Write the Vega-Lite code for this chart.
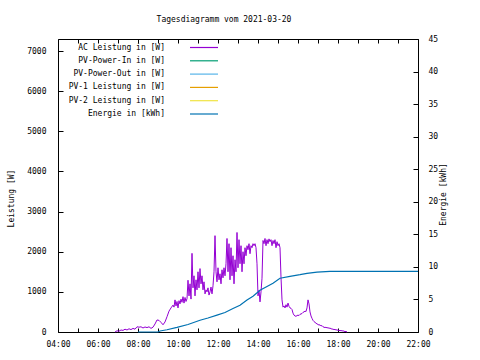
{
  "$schema": "https://vega.github.io/schema/vega-lite/v6.json",
  "width": 360,
  "height": 293,
  "autosize": "none",
  "padding": {"left": 58, "top": 39, "right": 62, "bottom": 28},
  "background": "white",
  "config": {
    "font": "DejaVu Sans Mono",
    "view": {"stroke": "black", "strokeWidth": 1},
    "axis": {"labelFont": "DejaVu Sans Mono", "labelFontSize": 8, "labelColor": "black", "titleFont": "DejaVu Sans Mono", "titleFontSize": 8, "titleFontWeight": "normal", "titleColor": "black", "tickColor": "black", "grid": false, "domain": false},
    "legend": {"orient": "none", "legendX": 140.5, "legendY": 3, "symbolType": "M-3,0H3", "symbolSize": 87, "symbolStrokeWidth": 1.2, "labelAlign": "right", "labelOffset": -44.5, "labelFont": "DejaVu Sans Mono", "labelFontSize": 8, "labelColor": "black", "labelLimit": 0, "padding": 0, "rowPadding": 3.3}
  },
  "title": {"text": "Tagesdiagramm vom 2021-03-20", "font": "DejaVu Sans Mono", "fontSize": 8, "fontWeight": "normal", "color": "black", "anchor": "middle", "dx": -14, "offset": 7, "baseline": "middle", "frame": "group"},
  "layer": [
    {
      "data": {"values": [
        {"t":6.85,"ac":0},{"t":6.95,"ac":30},{"t":7.05,"ac":20},{"t":7.15,"ac":50},{"t":7.25,"ac":40},{"t":7.35,"ac":70},{"t":7.45,"ac":50},{"t":7.55,"ac":80},{"t":7.65,"ac":60},{"t":7.75,"ac":90},{"t":7.85,"ac":70},{"t":7.95,"ac":130},{"t":8.05,"ac":120},{"t":8.15,"ac":130},{"t":8.25,"ac":100},{"t":8.35,"ac":125},{"t":8.45,"ac":110},{"t":8.55,"ac":130},{"t":8.65,"ac":90},{"t":8.75,"ac":120},{"t":8.85,"ac":200},{"t":8.95,"ac":300},{"t":9.05,"ac":290},{"t":9.15,"ac":240},{"t":9.25,"ac":180},{"t":9.35,"ac":250},{"t":9.45,"ac":380},{"t":9.55,"ac":520},{"t":9.65,"ac":600},{"t":9.75,"ac":670},{"t":9.8,"ac":620},{"t":9.85,"ac":800},{"t":9.9,"ac":650},{"t":9.95,"ac":760},{"t":10.0,"ac":600},{"t":10.05,"ac":780},{"t":10.1,"ac":700},{"t":10.15,"ac":820},{"t":10.2,"ac":740},{"t":10.25,"ac":880},{"t":10.3,"ac":720},{"t":10.35,"ac":860},{"t":10.4,"ac":760},{"t":10.45,"ac":830},{"t":10.5,"ac":1290},{"t":10.55,"ac":900},{"t":10.6,"ac":1200},{"t":10.65,"ac":820},{"t":10.7,"ac":1960},{"t":10.75,"ac":1100},{"t":10.8,"ac":1400},{"t":10.85,"ac":900},{"t":10.9,"ac":1300},{"t":10.95,"ac":1050},{"t":11.0,"ac":1500},{"t":11.05,"ac":1100},{"t":11.1,"ac":1580},{"t":11.15,"ac":1200},{"t":11.2,"ac":1400},{"t":11.25,"ac":1050},{"t":11.3,"ac":1250},{"t":11.35,"ac":950},{"t":11.4,"ac":1050},{"t":11.45,"ac":1000},{"t":11.5,"ac":1100},{"t":11.55,"ac":920},{"t":11.6,"ac":1000},{"t":11.65,"ac":1120},{"t":11.7,"ac":950},{"t":11.75,"ac":1150},{"t":11.8,"ac":1500},{"t":11.85,"ac":2400},{"t":11.9,"ac":1500},{"t":11.95,"ac":1250},{"t":12.0,"ac":1600},{"t":12.05,"ac":1300},{"t":12.1,"ac":1450},{"t":12.15,"ac":1200},{"t":12.2,"ac":1550},{"t":12.25,"ac":1350},{"t":12.3,"ac":1600},{"t":12.35,"ac":1400},{"t":12.4,"ac":1700},{"t":12.45,"ac":2330},{"t":12.5,"ac":1500},{"t":12.55,"ac":2200},{"t":12.6,"ac":1300},{"t":12.65,"ac":2100},{"t":12.7,"ac":1400},{"t":12.75,"ac":1900},{"t":12.8,"ac":1200},{"t":12.85,"ac":1800},{"t":12.9,"ac":1500},{"t":12.95,"ac":2480},{"t":13.0,"ac":1600},{"t":13.05,"ac":2300},{"t":13.1,"ac":1700},{"t":13.15,"ac":2150},{"t":13.2,"ac":1500},{"t":13.25,"ac":2000},{"t":13.3,"ac":1700},{"t":13.35,"ac":2100},{"t":13.4,"ac":1900},{"t":13.45,"ac":2150},{"t":13.5,"ac":2050},{"t":13.55,"ac":2200},{"t":13.6,"ac":1950},{"t":13.65,"ac":2150},{"t":13.7,"ac":2100},{"t":13.75,"ac":2200},{"t":13.8,"ac":2150},{"t":13.85,"ac":2200},{"t":13.9,"ac":2100},{"t":13.95,"ac":1700},{"t":14.0,"ac":900},{"t":14.05,"ac":1040},{"t":14.1,"ac":750},{"t":14.15,"ac":1000},{"t":14.2,"ac":1340},{"t":14.25,"ac":2280},{"t":14.3,"ac":2200},{"t":14.35,"ac":2330},{"t":14.4,"ac":2150},{"t":14.45,"ac":2300},{"t":14.5,"ac":2200},{"t":14.55,"ac":2320},{"t":14.6,"ac":2250},{"t":14.65,"ac":2300},{"t":14.7,"ac":2150},{"t":14.75,"ac":2280},{"t":14.8,"ac":2200},{"t":14.85,"ac":2300},{"t":14.9,"ac":2100},{"t":14.95,"ac":2250},{"t":15.0,"ac":2150},{"t":15.05,"ac":2200},{"t":15.1,"ac":2100},{"t":15.15,"ac":1360},{"t":15.2,"ac":800},{"t":15.25,"ac":620},{"t":15.3,"ac":650},{"t":15.35,"ac":600},{"t":15.4,"ac":680},{"t":15.45,"ac":620},{"t":15.5,"ac":720},{"t":15.55,"ac":640},{"t":15.6,"ac":600},{"t":15.65,"ac":590},{"t":15.7,"ac":560},{"t":15.75,"ac":470},{"t":15.8,"ac":420},{"t":15.85,"ac":400},{"t":15.9,"ac":390},{"t":15.95,"ac":410},{"t":16.0,"ac":420},{"t":16.05,"ac":410},{"t":16.1,"ac":440},{"t":16.15,"ac":450},{"t":16.2,"ac":460},{"t":16.25,"ac":490},{"t":16.3,"ac":500},{"t":16.35,"ac":520},{"t":16.4,"ac":510},{"t":16.45,"ac":600},{"t":16.5,"ac":800},{"t":16.55,"ac":700},{"t":16.6,"ac":500},{"t":16.65,"ac":400},{"t":16.7,"ac":340},{"t":16.75,"ac":290},{"t":16.8,"ac":260},{"t":16.85,"ac":240},{"t":16.9,"ac":220},{"t":16.95,"ac":200},{"t":17.0,"ac":190},{"t":17.05,"ac":170},{"t":17.1,"ac":180},{"t":17.15,"ac":150},{"t":17.2,"ac":160},{"t":17.25,"ac":130},{"t":17.3,"ac":120},{"t":17.35,"ac":110},{"t":17.4,"ac":120},{"t":17.45,"ac":100},{"t":17.5,"ac":110},{"t":17.55,"ac":90},{"t":17.6,"ac":100},{"t":17.65,"ac":80},{"t":17.7,"ac":75},{"t":17.75,"ac":70},{"t":17.8,"ac":60},{"t":17.85,"ac":65},{"t":17.9,"ac":50},{"t":17.95,"ac":55},{"t":18.0,"ac":40},{"t":18.05,"ac":45},{"t":18.1,"ac":30},{"t":18.15,"ac":40},{"t":18.2,"ac":25},{"t":18.25,"ac":30},{"t":18.3,"ac":20},{"t":18.35,"ac":10},{"t":18.4,"ac":15},{"t":18.45,"ac":0}
      ]},
      "mark": {"type": "line", "strokeWidth": 1},
      "encoding": {
        "x": {"field": "t", "type": "quantitative", "scale": {"domain": [4, 22], "nice": false, "zero": false},
              "axis": {"values": [4,5,6,7,8,9,10,11,12,13,14,15,16,17,18,19,20,21,22], "labelExpr": "datum.value % 2 == 0 ? (datum.value < 10 ? '0' : '') + datum.value + ':00' : ''", "tickSize": -4, "labelPadding": 12, "title": null, "labelFlush": false, "labelOverlap": false}},
        "y": {"field": "ac", "type": "quantitative", "scale": {"domain": [0, 7300], "nice": false},
              "axis": {"values": [0,1000,2000,3000,4000,5000,6000,7000], "format": "d", "tickSize": -5, "labelPadding": 17, "title": "Leistung [W]", "titleAngle": -90, "titleX": -47, "titleY": 159, "titleBaseline": "middle", "titleAlign": "center"}},
        "color": {"datum": "AC Leistung in [W]", "type": "nominal",
                  "scale": {"domain": ["AC Leistung in [W]", "PV-Power-In in [W]", "PV-Power-Out in [W]", "PV-1 Leistung in [W]", "PV-2 Leistung in [W]", "Energie in [kWh]"], "range": ["#9400d3", "#009e73", "#56b4e9", "#e69f00", "#f0e442", "#0072b2"]},
                  "legend": {"title": null}}
      }
    },
    {
      "data": {"values": [
        {"t":8.0,"e":0},{"t":9.0,"e":0},{"t":9.1,"e":0.15},{"t":9.45,"e":0.35},{"t":9.95,"e":0.7},{"t":10.5,"e":1.15},{"t":11.1,"e":1.8},{"t":11.5,"e":2.15},{"t":11.95,"e":2.6},{"t":12.35,"e":3.0},{"t":12.75,"e":3.6},{"t":13.1,"e":4.1},{"t":13.45,"e":4.9},{"t":13.75,"e":5.5},{"t":14.1,"e":6.4},{"t":14.45,"e":7.0},{"t":14.75,"e":7.5},{"t":15.1,"e":8.25},{"t":15.6,"e":8.55},{"t":16.1,"e":8.8},{"t":16.45,"e":9.0},{"t":16.95,"e":9.2},{"t":17.6,"e":9.3},{"t":22.0,"e":9.3}
      ]},
      "mark": {"type": "line", "strokeWidth": 1.2},
      "encoding": {
        "x": {"field": "t", "type": "quantitative",
              "axis": {"orient": "top", "values": [4,5,6,7,8,9,10,11,12,13,14,15,16,17,18,19,20,21,22], "labels": false, "tickSize": -4, "title": null}},
        "y": {"field": "e", "type": "quantitative", "scale": {"domain": [0, 45], "nice": false},
              "axis": {"orient": "right", "values": [0,5,10,15,20,25,30,35,40,45], "tickSize": -5, "labelPadding": 15, "title": "Energie [kWh]", "titleAngle": -90, "titleX": 25, "titleY": 155, "titleBaseline": "middle", "titleAlign": "center"}},
        "color": {"datum": "Energie in [kWh]", "type": "nominal"}
      }
    }
  ],
  "resolve": {"scale": {"y": "independent"}, "axis": {"x": "independent"}}
}
